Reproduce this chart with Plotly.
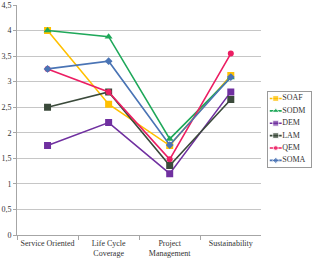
import plotly.graph_objects as go

categories = ["Service Oriented", "Life Cycle<br>Coverage", "Project<br>Management", "Sustainability"]
series_names = ["SOAF", "SODM", "DEM", "LAM", "QEM", "SOMA"]
soaf = [4.0, 2.56, 1.75, 3.12]
sodm = [4.0, 3.88, 1.88, 3.08]
dem = [1.75, 2.2, 1.2, 2.8]
lam = [2.5, 2.8, 1.36, 2.65]
qem = [3.25, 2.8, 1.48, 3.55]
soma = [3.25, 3.4, 1.76, 3.09]
values = [soaf, sodm, dem, lam, qem, soma]
colors = ["#FFC000", "#1FA85A", "#7030A0", "#3B4A3B", "#EC1E63", "#4A74B5"]
symbols = ["square", "triangle-up", "square", "square", "circle", "diamond"]
sizes = [7, 7, 7, 7, 6, 6]
y_ticks = [0, 0.5, 1, 1.5, 2, 2.5, 3, 3.5, 4, 4.5]
y_tick_text = ["0", "0,5", "1", "1,5", "2", "2,5", "3", "3,5", "4", "4,5"]

W, H = 313, 271
ML, MR, MT, MB = 16, 1, 3, 36
pw = W - ML - MR
ph = H - MT - MB
main_right = 262
leg_left, leg_right = 269, 312
leg_top, leg_bottom = 91, 166

fig = go.Figure()
for name, vals, c, s, sz in zip(series_names, values, colors, symbols, sizes):
    fig.add_trace(go.Scatter(
        x=categories, y=vals, name=name, mode="lines+markers",
        line=dict(color=c, width=1.6),
        marker=dict(symbol=s, size=sz, color=c),
        xaxis="x", yaxis="y", showlegend=False,
    ))

# custom compact legend drawn on its own small axes
n = len(series_names)
for i, (name, c, s, sz) in enumerate(zip(series_names, colors, symbols, sizes)):
    yy = n - i - 0.5
    fig.add_trace(go.Scatter(
        x=[1.5, 7.5, 13.5], y=[yy, yy, yy], mode="lines+markers",
        line=dict(color=c, width=1.6),
        marker=dict(symbol=s, size=[0, sz - 1, 0], color=c),
        xaxis="x2", yaxis="y2", showlegend=False, hoverinfo="skip",
    ))
    fig.add_trace(go.Scatter(
        x=[14], y=[yy], mode="text", text=[name], textposition="middle right",
        textfont=dict(family="Liberation Serif", size=8, color="#333333"),
        xaxis="x2", yaxis="y2", showlegend=False, hoverinfo="skip",
    ))

fig.update_layout(
    width=W, height=H,
    margin=dict(l=ML, r=MR, t=MT, b=MB),
    paper_bgcolor="white", plot_bgcolor="rgba(0,0,0,0)",
    font=dict(family="Liberation Serif", size=8, color="#333333"),
    showlegend=False,
    xaxis=dict(
        domain=[0, (main_right - ML) / pw],
        type="category", showgrid=False, showline=True, linecolor="#A6A6A6",
        ticks="outside", tickson="boundaries", ticklen=4, tickcolor="#A6A6A6",
        tickfont=dict(size=8), tickangle=0, range=[-0.5, 3.5],
    ),
    yaxis=dict(
        range=[0, 4.5], tickvals=y_ticks, ticktext=y_tick_text,
        showgrid=True, gridcolor="#C6C6C6", gridwidth=1,
        showline=True, linecolor="#A6A6A6", ticks="outside", ticklen=3,
        tickcolor="#A6A6A6", zeroline=False, tickfont=dict(size=8),
        ticklabeloverflow="allow",
    ),
    xaxis2=dict(
        domain=[(leg_left - ML) / pw, (leg_right - ML) / pw], anchor="y2",
        range=[0, leg_right - leg_left], showgrid=False, zeroline=False,
        showticklabels=False, showline=True, mirror=True, linecolor="#9A9A9A",
        ticks="", fixedrange=True,
    ),
    yaxis2=dict(
        domain=[(H - MB - leg_bottom) / ph, (H - MB - leg_top) / ph], anchor="x2",
        range=[0, n], showgrid=False, zeroline=False,
        showticklabels=False, showline=True, mirror=True, linecolor="#9A9A9A",
        ticks="", fixedrange=True,
    ),
)
fig.write_html("out.html")
